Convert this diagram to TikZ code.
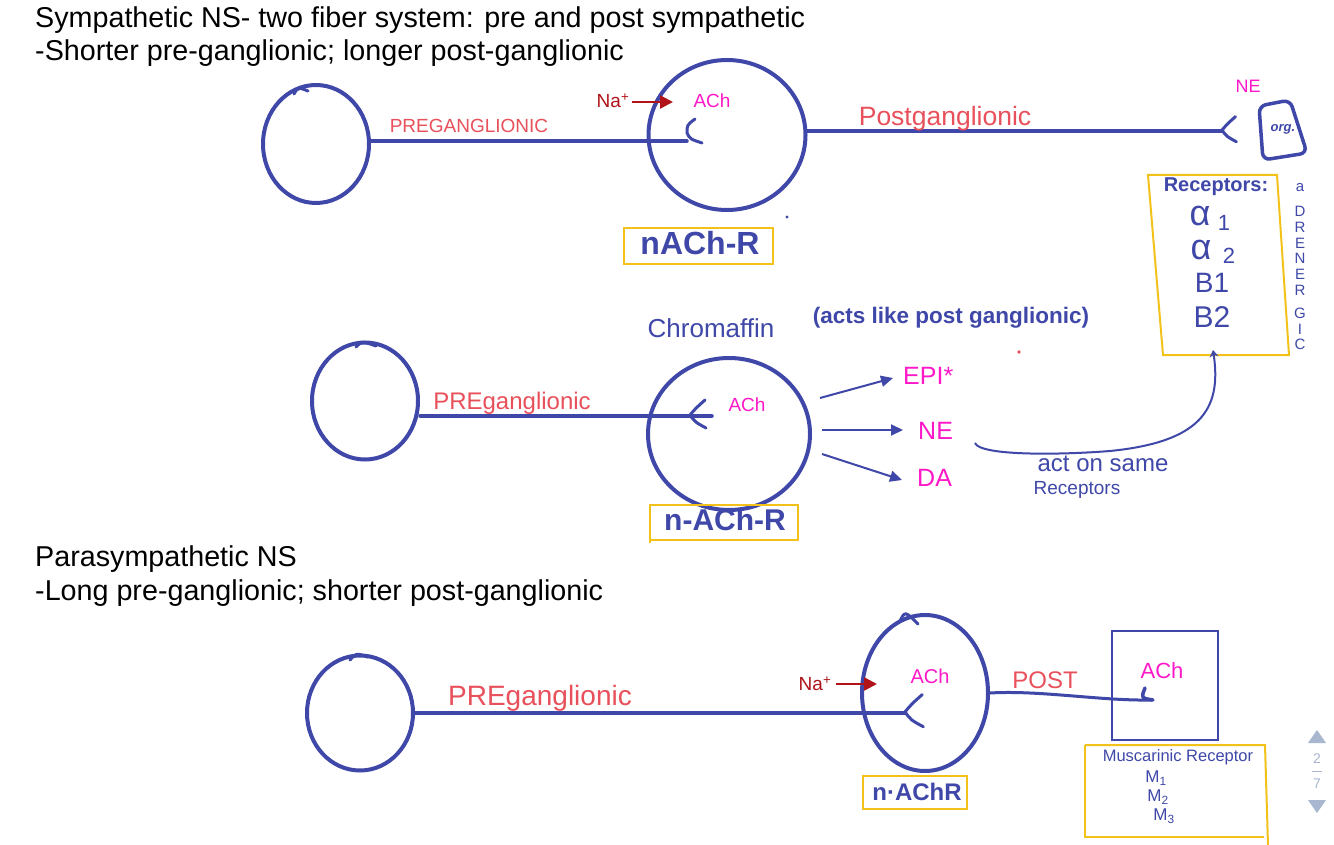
\documentclass[tikz,border=0pt]{standalone}
\usepackage{fontspec}
\setmainfont{Liberation Sans}
\usetikzlibrary{shapes.geometric,arrows.meta}
\definecolor{pen}{HTML}{3F48A8}
\definecolor{salmon}{HTML}{E8505B}
\definecolor{mag}{HTML}{FF18C8}
\definecolor{dred}{HTML}{B0141A}
\definecolor{gold}{HTML}{F2C21B}
\definecolor{uigray}{HTML}{A8B6D0}
\newcommand\fsz[1]{\fontsize{#1}{#1}\selectfont}
\begin{document}
\begin{tikzpicture}[x=1pt,y=-1pt,
  cell/.style={ellipse, draw=pen, line width=4pt, inner sep=0pt},
  axon/.style={draw=pen, line width=3.5pt, line cap=round},
  thinpen/.style={draw=pen, line width=2pt, line cap=round, line join=round},
  title/.style={anchor=base west, inner sep=0pt, font=\fsz{28.7}},
  lab/.style={inner sep=0pt, text=salmon},
  nt/.style={inner sep=0pt, text=mag},
  hw/.style={inner sep=0pt, text=pen},
  goldbox/.style={draw=gold, line width=2pt},
  naarrow/.style={draw=dred, line width=2.5pt, -{Triangle[length=13pt,width=13pt]}},
  relarrow/.style={draw=pen, line width=2pt, -{Triangle[length=12pt,width=11pt]}},
  syn/.pic={\draw[axon, line width=3pt, line join=round] (15,-16) .. controls (6,-8) .. (0,-1) .. controls (5,6) .. (16,12);}
]
\useasboundingbox (0,0) rectangle (1334,845);
\fill[white] (0,0) rectangle (1334,845);

% ---------- titles
\node[title] (t1) at (35,28) {Sympathetic NS- two fiber system: pre and post sympathetic};
\node[title] (t2) at (35,61) {-Shorter pre-ganglionic; longer post-ganglionic};
\node[title] (t3) at (35,566) {Parasympathetic NS};
\node[title] (t4) at (35,600) {-Long pre-ganglionic; shorter post-ganglionic};

% ---------- row 1
\node[cell, minimum width=106pt, minimum height=118pt] (L1) at (316,144) {};
\node[cell, minimum width=157pt, minimum height=150pt] (M1) at (727,135) {};
\draw[thinpen, line width=3pt] (294,94) .. controls (298,87) .. (308,91);
\coordinate (d1) at (687,141);
\draw[axon] (L1.east |- d1) -- (d1);
\draw[axon, line width=3pt, line join=round] (695,119) .. controls (687,125) .. (687,133) .. controls (690,139) .. (702,143);
\node[lab, font=\fsz{19}] (pre1) at (469,126) {PREGANGLIONIC};
\node[nt, font=\fsz{19}] (ach1) at (712,101) {ACh};
\node[inner sep=0pt, text=dred, font=\fsz{19}] (na1) at (613,101) {Na\textsuperscript{+}};
\coordinate (na1t) at (673,102);
\draw[naarrow] (na1.east) ++(3,1) -- (na1t);
\coordinate (d2) at (1222,131);
\draw[axon] (M1.east |- d2) -- (d2);
\pic[scale=0.9] at (d2) {syn};
\node[lab, font=\fsz{26.5}] (post1) at (945,119) {Postganglionic};
\draw[pen, line width=3.5pt, rounded corners=7pt] (1259,106) -- (1290,100) -- (1307,153) -- (1263,160) -- cycle;
\node[hw, font=\bfseries\itshape\fsz{13}] (org) at (1283,129) {org.};
\node[nt, font=\fsz{18}] (ne1) at (1248,86) {NE};
\node[goldbox, minimum width=149pt, minimum height=36pt] (nr1) at (698,246) {};
\node[hw, font=\bfseries\fsz{32}] (nr1t) at (700,243) {nACh-R};
\fill[pen] (787,217) circle (1.6pt);

% receptors box
\draw[goldbox] (1148,175) -- (1277,175) -- (1289,355) -- (1163,355) -- cycle;
\node[hw, font=\bfseries\fsz{20}] (rec) at (1216,187) {Receptors:};
\node[hw, font=\fsz{36}] (a1) at (1200,216) {α};
\node[hw, font=\fsz{22}] (a1s) at (1224,223) {1};
\node[hw, font=\fsz{36}] (a2) at (1201,250) {α};
\node[hw, font=\fsz{22}] (a2s) at (1229,256) {2};
\node[hw, font=\fsz{28}] (b1) at (1212,283) {B1};
\node[hw, font=\fsz{30}] (b2) at (1212,317) {B2};
\coordinate (rb) at (1213,350);
\foreach \ch/\yy [count=\i] in {a/188,D/211,R/227,E/243,N/258,E/274,R/290,G/313,I/329,C/344}
  \node[hw, font=\fsz{15}] (adr\i) at (1300,\yy) {\ch};

% ---------- row 2
\node[cell, minimum width=106pt, minimum height=117pt] (L2) at (365,401) {};
\node[cell, minimum width=162pt, minimum height=152pt] (M2) at (729,434) {};
\draw[thinpen, line width=3pt] (356,347) .. controls (362,341) .. (376,346);
\coordinate (d3) at (712,416);
\draw[axon] (L2.east |- d3) -- (d3);
\pic at (690,416) {syn};
\node[lab, font=\fsz{24}] (pre2) at (512,403) {PREganglionic};
\node[nt, font=\fsz{19}] (ach2) at (747,405) {ACh};
\node[hw, font=\fsz{26}] (chr) at (711,328) {Chromaffin};
\node[hw, font=\bfseries\fsz{22.5}] (acts) at (951,318) {(acts like post ganglionic)};
\node[nt, font=\fsz{25}, anchor=west] (epi) at (903,376) {EPI*};
\node[nt, font=\fsz{25}, anchor=west] (ne2) at (918,431) {NE};
\node[nt, font=\fsz{25}, anchor=west] (da) at (917,478) {DA};
\coordinate (s1) at (820,398);
\coordinate (s2) at (822,430);
\coordinate (s3) at (822,454);
\draw[relarrow] (s1) -- (893,378);
\draw[relarrow] (s2) -- (903,430);
\draw[relarrow] (s3) -- (902,480);
\coordinate (cs) at (975,443);
\draw[draw=pen, line width=2pt, -{Stealth[length=7pt,width=9pt]}] (cs) .. controls (980,456) and (1060,455) .. (1110,451) .. controls (1200,442) and (1222,410) .. (rb);
\node[hw, font=\fsz{24}] (aos) at (1103,464) {act on same};
\node[hw, font=\fsz{19}] (rec2) at (1077,490) {Receptors};
\node[goldbox, minimum width=148pt, minimum height=35pt] (nr2) at (724,522) {};
\draw[goldbox] (650,505) -- (650,543);
\node[hw, font=\bfseries\fsz{30}] (nr2t) at (725,520) {n-ACh-R};
\fill[salmon] (1019,352) circle (1.8pt);

% ---------- row 3
\node[cell, minimum width=106pt, minimum height=115pt] (L3) at (360,713) {};
\node[cell, minimum width=126pt, minimum height=156pt] (M3) at (925,693) {};
\draw[thinpen, line width=3pt] (350,660) .. controls (356,653) .. (368,657);
\draw[thinpen, line width=3pt] (900,621) .. controls (905,611) .. (918,624);
\coordinate (d4) at (905,713);
\draw[axon] (L3.east |- d4) -- (d4);
\pic[scale=1.15] at (d4) {syn};
\node[lab, font=\fsz{28}] (pre3) at (540,698) {PREganglionic};
\node[inner sep=0pt, text=dred, font=\fsz{19}] (na3) at (815,684) {Na\textsuperscript{+}};
\coordinate (na3t) at (877,684);
\draw[naarrow] (na3.east) ++(5,0) -- (na3t);
\node[nt, font=\fsz{20}] (ach3) at (930,676) {ACh};
\node[draw=pen, line width=2pt, minimum width=106pt, minimum height=109pt] (box) at (1165,685) {};
\coordinate (p3) at (1152,700);
\draw[axon, line width=3pt] (M3.east) .. controls (1040,690) and (1100,701) .. (p3);
\draw[axon, line width=3.5pt] (1145,688) .. controls (1141,698) .. (1153,700);
\node[lab, font=\fsz{24}] (post3) at (1045,680) {POST};
\node[nt, font=\fsz{22}] (ach4) at (1162,671) {ACh};
\node[goldbox, minimum width=104pt, minimum height=33pt] (nr3) at (915,792) {};
\node[hw, font=\bfseries\fsz{24}] (nr3t) at (917,792) {n·AChR};
\draw[goldbox] (1085,745) -- (1265,745) -- (1268,845);
\draw[goldbox] (1085,745) -- (1085,837) -- (1264,837);
\node[hw, font=\fsz{16.5}] (mus) at (1178,757) {Muscarinic Receptor};
\node[hw, font=\fsz{17}] (m1) at (1156,778) {M\textsubscript{1}};
\node[hw, font=\fsz{17}] (m2) at (1158,797) {M\textsubscript{2}};
\node[hw, font=\fsz{17}] (m3) at (1164,816) {M\textsubscript{3}};

% ---------- page indicator
\fill[uigray] (1308,743) -- (1326,743) -- (1317,730) -- cycle;
\node[inner sep=0pt, text=uigray, font=\fsz{14}] (pg2) at (1317,759) {2};
\draw[uigray, line width=1pt] (1312,771) -- (1322,771);
\node[inner sep=0pt, text=uigray, font=\fsz{14}] (pg7) at (1317,784) {7};
\fill[uigray] (1308,800) -- (1326,800) -- (1317,813) -- cycle;
\end{tikzpicture}
\end{document}
